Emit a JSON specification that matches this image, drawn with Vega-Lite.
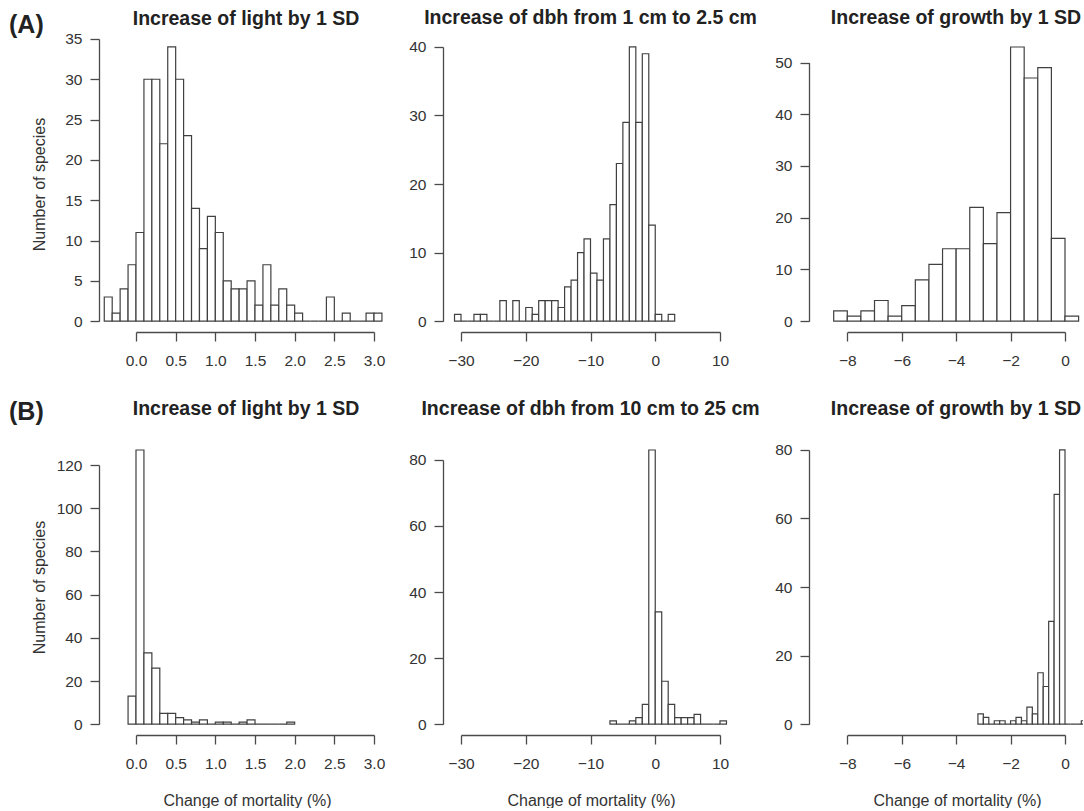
{
  "$schema": "https://vega.github.io/schema/vega-lite/v6.json",
  "background": "white",
  "padding": {"left": 9, "top": 8, "right": 0, "bottom": 0},
  "config": {
    "view": {"stroke": null},
    "font": "Liberation Sans",
    "axis": {
      "domainColor": "#4a4a4a", "tickColor": "#4a4a4a", "domainWidth": 1.3, "tickWidth": 1.3,
      "tickSize": 9, "labelFont": "Liberation Sans", "labelFontSize": 15.5, "labelColor": "#333333",
      "grid": false, "titleFont": "Liberation Sans", "titleFontSize": 16, "titleFontWeight": "normal",
      "titleColor": "#333333", "labelFlush": false, "labelOverlap": false
    },
    "axisX": {"labelPadding": 12},
    "axisY": {"labelPadding": 8, "labelAngle": 0},
    "title": {"font": "Liberation Sans", "fontSize": 19.5, "fontWeight": "bold", "color": "#222222", "baseline": "alphabetic", "offset": 10}
  },
  "datasets": {
    "light1": [
      {"x0": -0.4, "x1": -0.3, "n": 3}, {"x0": -0.3, "x1": -0.2, "n": 1}, {"x0": -0.2, "x1": -0.1, "n": 4}, {"x0": -0.1, "x1": 0.0, "n": 7},
      {"x0": 0.0, "x1": 0.1, "n": 11}, {"x0": 0.1, "x1": 0.2, "n": 30}, {"x0": 0.2, "x1": 0.3, "n": 30}, {"x0": 0.3, "x1": 0.4, "n": 22},
      {"x0": 0.4, "x1": 0.5, "n": 34}, {"x0": 0.5, "x1": 0.6, "n": 30}, {"x0": 0.6, "x1": 0.7, "n": 23}, {"x0": 0.7, "x1": 0.8, "n": 14},
      {"x0": 0.8, "x1": 0.9, "n": 9}, {"x0": 0.9, "x1": 1.0, "n": 13}, {"x0": 1.0, "x1": 1.1, "n": 11}, {"x0": 1.1, "x1": 1.2, "n": 5},
      {"x0": 1.2, "x1": 1.3, "n": 4}, {"x0": 1.3, "x1": 1.4, "n": 4}, {"x0": 1.4, "x1": 1.5, "n": 5}, {"x0": 1.5, "x1": 1.6, "n": 2},
      {"x0": 1.6, "x1": 1.7, "n": 7}, {"x0": 1.7, "x1": 1.8, "n": 2}, {"x0": 1.8, "x1": 1.9, "n": 4}, {"x0": 1.9, "x1": 2.0, "n": 2},
      {"x0": 2.0, "x1": 2.1, "n": 1}, {"x0": 2.1, "x1": 2.2, "n": 0}, {"x0": 2.2, "x1": 2.3, "n": 0}, {"x0": 2.3, "x1": 2.4, "n": 0},
      {"x0": 2.4, "x1": 2.5, "n": 3}, {"x0": 2.5, "x1": 2.6, "n": 0}, {"x0": 2.6, "x1": 2.7, "n": 1}, {"x0": 2.7, "x1": 2.8, "n": 0},
      {"x0": 2.8, "x1": 2.9, "n": 0}, {"x0": 2.9, "x1": 3.0, "n": 1}, {"x0": 3.0, "x1": 3.1, "n": 1}
    ],
    "dbh1": [
      {"x0": -31, "x1": -30, "n": 1}, {"x0": -30, "x1": -29, "n": 0}, {"x0": -29, "x1": -28, "n": 0}, {"x0": -28, "x1": -27, "n": 1},
      {"x0": -27, "x1": -26, "n": 1}, {"x0": -26, "x1": -25, "n": 0}, {"x0": -25, "x1": -24, "n": 0}, {"x0": -24, "x1": -23, "n": 3},
      {"x0": -23, "x1": -22, "n": 0}, {"x0": -22, "x1": -21, "n": 3}, {"x0": -21, "x1": -20, "n": 0}, {"x0": -20, "x1": -19, "n": 2},
      {"x0": -19, "x1": -18, "n": 1}, {"x0": -18, "x1": -17, "n": 3}, {"x0": -17, "x1": -16, "n": 3}, {"x0": -16, "x1": -15, "n": 3},
      {"x0": -15, "x1": -14, "n": 2}, {"x0": -14, "x1": -13, "n": 5}, {"x0": -13, "x1": -12, "n": 6}, {"x0": -12, "x1": -11, "n": 10},
      {"x0": -11, "x1": -10, "n": 12}, {"x0": -10, "x1": -9, "n": 7}, {"x0": -9, "x1": -8, "n": 6}, {"x0": -8, "x1": -7, "n": 12},
      {"x0": -7, "x1": -6, "n": 17}, {"x0": -6, "x1": -5, "n": 23}, {"x0": -5, "x1": -4, "n": 29}, {"x0": -4, "x1": -3, "n": 40},
      {"x0": -3, "x1": -2, "n": 29}, {"x0": -2, "x1": -1, "n": 39}, {"x0": -1, "x1": 0, "n": 14}, {"x0": 0, "x1": 1, "n": 1},
      {"x0": 1, "x1": 2, "n": 0}, {"x0": 2, "x1": 3, "n": 1}
    ],
    "growth1": [
      {"x0": -8.5, "x1": -8.0, "n": 2}, {"x0": -8.0, "x1": -7.5, "n": 1}, {"x0": -7.5, "x1": -7.0, "n": 2}, {"x0": -7.0, "x1": -6.5, "n": 4},
      {"x0": -6.5, "x1": -6.0, "n": 1}, {"x0": -6.0, "x1": -5.5, "n": 3}, {"x0": -5.5, "x1": -5.0, "n": 8}, {"x0": -5.0, "x1": -4.5, "n": 11},
      {"x0": -4.5, "x1": -4.0, "n": 14}, {"x0": -4.0, "x1": -3.5, "n": 14}, {"x0": -3.5, "x1": -3.0, "n": 22}, {"x0": -3.0, "x1": -2.5, "n": 15},
      {"x0": -2.5, "x1": -2.0, "n": 21}, {"x0": -2.0, "x1": -1.5, "n": 53}, {"x0": -1.5, "x1": -1.0, "n": 47}, {"x0": -1.0, "x1": -0.5, "n": 49},
      {"x0": -0.5, "x1": 0.0, "n": 16}, {"x0": 0.0, "x1": 0.5, "n": 1}
    ],
    "light2": [
      {"x0": -0.1, "x1": 0.0, "n": 13}, {"x0": 0.0, "x1": 0.1, "n": 127}, {"x0": 0.1, "x1": 0.2, "n": 33}, {"x0": 0.2, "x1": 0.3, "n": 26},
      {"x0": 0.3, "x1": 0.4, "n": 5}, {"x0": 0.4, "x1": 0.5, "n": 5}, {"x0": 0.5, "x1": 0.6, "n": 3}, {"x0": 0.6, "x1": 0.7, "n": 2},
      {"x0": 0.7, "x1": 0.8, "n": 1}, {"x0": 0.8, "x1": 0.9, "n": 2}, {"x0": 0.9, "x1": 1.0, "n": 0}, {"x0": 1.0, "x1": 1.1, "n": 1},
      {"x0": 1.1, "x1": 1.2, "n": 1}, {"x0": 1.2, "x1": 1.3, "n": 0}, {"x0": 1.3, "x1": 1.4, "n": 1}, {"x0": 1.4, "x1": 1.5, "n": 2},
      {"x0": 1.5, "x1": 1.6, "n": 0}, {"x0": 1.6, "x1": 1.7, "n": 0}, {"x0": 1.7, "x1": 1.8, "n": 0}, {"x0": 1.8, "x1": 1.9, "n": 0},
      {"x0": 1.9, "x1": 2.0, "n": 1}
    ],
    "dbh2": [
      {"x0": -7, "x1": -6, "n": 1}, {"x0": -6, "x1": -5, "n": 0}, {"x0": -5, "x1": -4, "n": 0}, {"x0": -4, "x1": -3, "n": 1},
      {"x0": -3, "x1": -2, "n": 2}, {"x0": -2, "x1": -1, "n": 6}, {"x0": -1, "x1": 0, "n": 83}, {"x0": 0, "x1": 1, "n": 34},
      {"x0": 1, "x1": 2, "n": 13}, {"x0": 2, "x1": 3, "n": 6}, {"x0": 3, "x1": 4, "n": 2}, {"x0": 4, "x1": 5, "n": 2},
      {"x0": 5, "x1": 6, "n": 2}, {"x0": 6, "x1": 7, "n": 3}, {"x0": 7, "x1": 8, "n": 0}, {"x0": 8, "x1": 9, "n": 0},
      {"x0": 9, "x1": 10, "n": 0}, {"x0": 10, "x1": 11, "n": 1}
    ],
    "growth2": [
      {"x0": -3.2, "x1": -3.0, "n": 3}, {"x0": -3.0, "x1": -2.8, "n": 2}, {"x0": -2.8, "x1": -2.6, "n": 0}, {"x0": -2.6, "x1": -2.4, "n": 1},
      {"x0": -2.4, "x1": -2.2, "n": 1}, {"x0": -2.2, "x1": -2.0, "n": 0}, {"x0": -2.0, "x1": -1.8, "n": 1}, {"x0": -1.8, "x1": -1.6, "n": 2},
      {"x0": -1.6, "x1": -1.4, "n": 1}, {"x0": -1.4, "x1": -1.2, "n": 5}, {"x0": -1.2, "x1": -1.0, "n": 3}, {"x0": -1.0, "x1": -0.8, "n": 15},
      {"x0": -0.8, "x1": -0.6, "n": 11}, {"x0": -0.6, "x1": -0.4, "n": 30}, {"x0": -0.4, "x1": -0.2, "n": 67}, {"x0": -0.2, "x1": 0.0, "n": 80},
      {"x0": 0.0, "x1": 0.2, "n": 0}, {"x0": 0.2, "x1": 0.4, "n": 0}, {"x0": 0.4, "x1": 0.6, "n": 0}, {"x0": 0.6, "x1": 0.8, "n": 1}
    ]
  },
  "spacing": 30,
  "vconcat": [
    {
      "title": {"text": "(A)", "anchor": "start", "frame": "group", "fontSize": 25, "dx": -90, "dy": 29.5, "offset": 0},
      "spacing": 50,
      "bounds": "flush",
      "hconcat": [
        {
          "width": 294, "height": 296,
          "title": {"text": "Increase of light by 1 SD", "dy": 7.5},
          "data": {"name": "light1"},
          "mark": {"type": "rect", "fill": "white", "stroke": "#404040", "strokeWidth": 1.2},
          "encoding": {
            "x": {"field": "x0", "type": "quantitative", "scale": {"domain": [0, 3], "range": [37, 275], "nice": false, "zero": false},
                  "axis": {"values": [0, 0.5, 1, 1.5, 2, 2.5, 3], "format": ".1f", "title": null}},
            "x2": {"field": "x1"},
            "y": {"field": "n", "type": "quantitative", "scale": {"domain": [0, 35], "range": [285.2, 2.9], "nice": false, "zero": false},
                  "axis": {"values": [0, 5, 10, 15, 20, 25, 30, 35], "format": "d", "title": "Number of species", "titleX": -55, "titleY": 148, "titleBaseline": "alphabetic"}},
            "y2": {"datum": 0}
          }
        },
        {
          "width": 316, "height": 296,
          "title": {"text": "Increase of dbh from 1 cm to 2.5 cm", "dx": -10.5, "dy": 2.5},
          "data": {"name": "dbh1"},
          "mark": {"type": "rect", "fill": "white", "stroke": "#404040", "strokeWidth": 1.2},
          "encoding": {
            "x": {"field": "x0", "type": "quantitative", "scale": {"domain": [-30, 10], "range": [18, 277], "nice": false, "zero": false},
                  "axis": {"values": [-30, -20, -10, 0, 10], "format": "d", "title": null}},
            "x2": {"field": "x1"},
            "y": {"field": "n", "type": "quantitative", "scale": {"domain": [0, 40], "range": [285.2, 10.9], "nice": false, "zero": false},
                  "axis": {"values": [0, 10, 20, 30, 40], "format": "d", "title": null}},
            "y2": {"datum": 0}
          }
        },
        {
          "width": 274, "height": 296,
          "title": {"text": "Increase of growth by 1 SD", "dx": 10, "dy": 2.5},
          "data": {"name": "growth1"},
          "mark": {"type": "rect", "fill": "white", "stroke": "#404040", "strokeWidth": 1.2, "clip": true},
          "encoding": {
            "x": {"field": "x0", "type": "quantitative", "scale": {"domain": [-8, 0], "range": [38.3, 256], "nice": false, "zero": false},
                  "axis": {"values": [-8, -6, -4, -2, 0], "format": "d", "title": null}},
            "x2": {"field": "x1"},
            "y": {"field": "n", "type": "quantitative", "scale": {"domain": [0, 50], "range": [285.2, 26.5], "nice": false, "zero": false},
                  "axis": {"values": [0, 10, 20, 30, 40, 50], "format": "d", "title": null}},
            "y2": {"datum": 0}
          }
        }
      ]
    },
    {
      "title": {"text": "(B)", "anchor": "start", "frame": "group", "fontSize": 25, "dx": -90, "dy": 26, "offset": 0},
      "spacing": 50,
      "bounds": "flush",
      "hconcat": [
        {
          "width": 294, "height": 296,
          "title": {"text": "Increase of light by 1 SD", "dy": -9.5},
          "data": {"name": "light2"},
          "mark": {"type": "rect", "fill": "white", "stroke": "#404040", "strokeWidth": 1.2},
          "encoding": {
            "x": {"field": "x0", "type": "quantitative", "scale": {"domain": [0, 3], "range": [37, 275], "nice": false, "zero": false},
                  "axis": {"values": [0, 0.5, 1, 1.5, 2, 2.5, 3], "format": ".1f", "title": "Change of mortality (%)", "titleX": 148, "titleY": 70, "titleBaseline": "alphabetic"}},
            "x2": {"field": "x1"},
            "y": {"field": "n", "type": "quantitative", "scale": {"domain": [0, 120], "range": [285.2, 26.1], "nice": false, "zero": false},
                  "axis": {"values": [0, 20, 40, 60, 80, 100, 120], "format": "d", "title": "Number of species", "titleX": -55, "titleY": 148, "titleBaseline": "alphabetic"}},
            "y2": {"datum": 0}
          }
        },
        {
          "width": 316, "height": 296,
          "title": {"text": "Increase of dbh from 10 cm to 25 cm", "dx": -10.5, "dy": -9.5},
          "data": {"name": "dbh2"},
          "mark": {"type": "rect", "fill": "white", "stroke": "#404040", "strokeWidth": 1.2},
          "encoding": {
            "x": {"field": "x0", "type": "quantitative", "scale": {"domain": [-30, 10], "range": [18, 277], "nice": false, "zero": false},
                  "axis": {"values": [-30, -20, -10, 0, 10], "format": "d", "title": "Change of mortality (%)", "titleX": 148, "titleY": 70, "titleBaseline": "alphabetic"}},
            "x2": {"field": "x1"},
            "y": {"field": "n", "type": "quantitative", "scale": {"domain": [0, 80], "range": [285.2, 20.9], "nice": false, "zero": false},
                  "axis": {"values": [0, 20, 40, 60, 80], "format": "d", "title": null}},
            "y2": {"datum": 0}
          }
        },
        {
          "width": 274, "height": 296,
          "title": {"text": "Increase of growth by 1 SD", "dx": 10, "dy": -9.5},
          "data": {"name": "growth2"},
          "mark": {"type": "rect", "fill": "white", "stroke": "#404040", "strokeWidth": 1.2, "clip": true},
          "encoding": {
            "x": {"field": "x0", "type": "quantitative", "scale": {"domain": [-8, 0], "range": [38.3, 256], "nice": false, "zero": false},
                  "axis": {"values": [-8, -6, -4, -2, 0], "format": "d", "title": "Change of mortality (%)", "titleX": 148, "titleY": 70, "titleBaseline": "alphabetic"}},
            "x2": {"field": "x1"},
            "y": {"field": "n", "type": "quantitative", "scale": {"domain": [0, 80], "range": [285.2, 10.9], "nice": false, "zero": false},
                  "axis": {"values": [0, 20, 40, 60, 80], "format": "d", "title": null}},
            "y2": {"datum": 0}
          }
        }
      ]
    }
  ]
}
